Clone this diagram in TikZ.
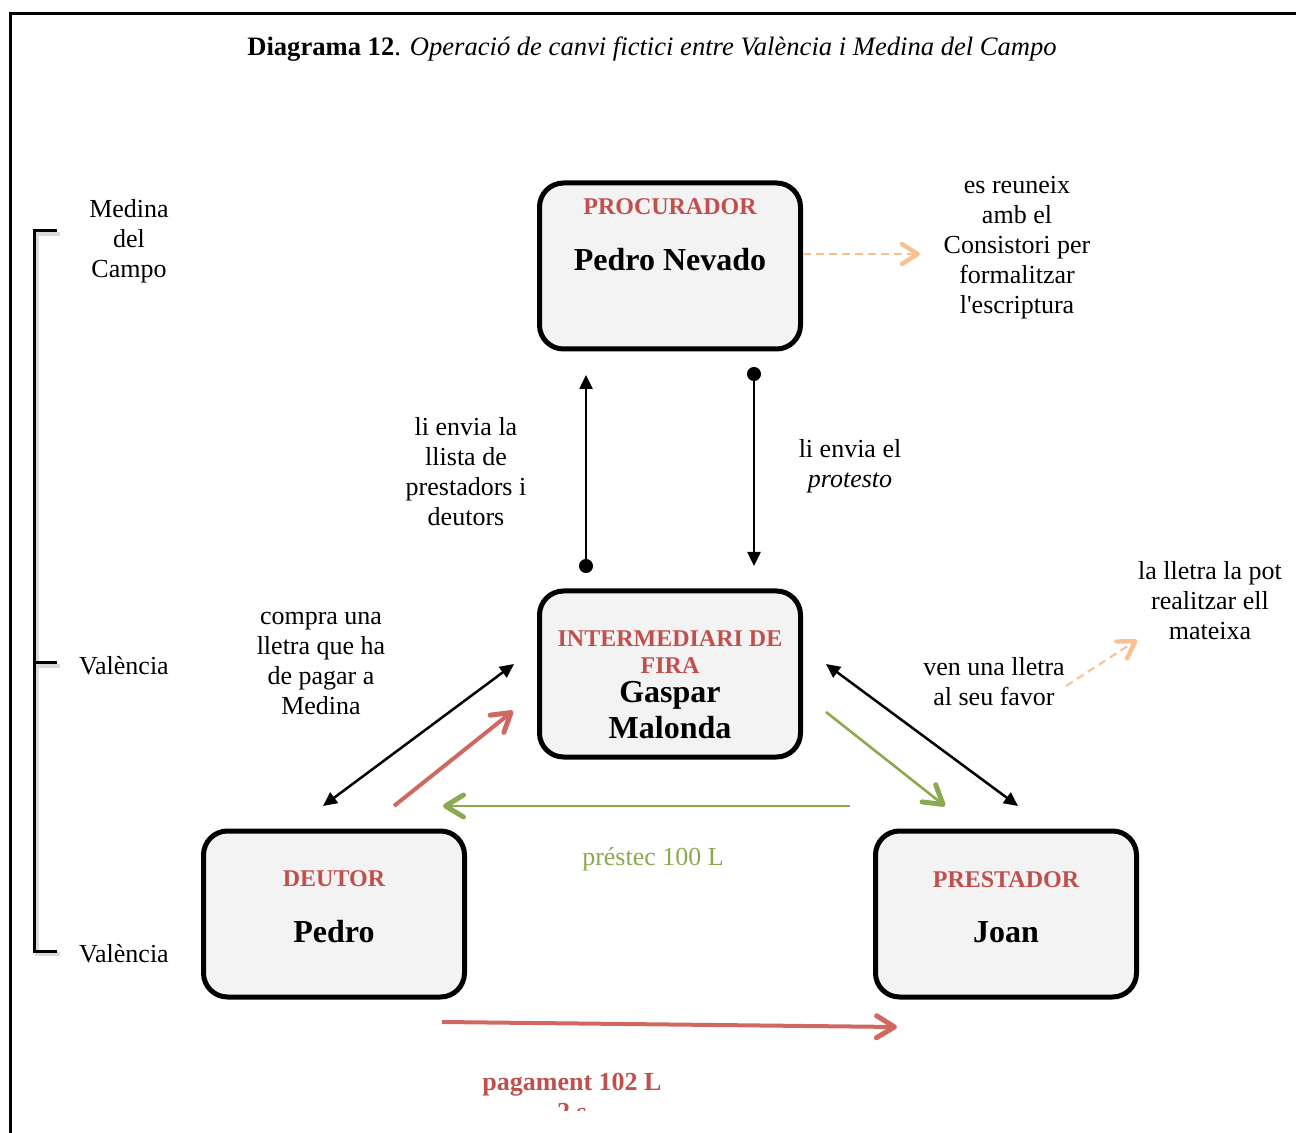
\documentclass[tikz,border=0pt]{standalone}
\usepackage{fontspec}
\setmainfont{Liberation Serif}[Ligatures=TeXOff]
\usetikzlibrary{arrows.meta}
\definecolor{rolered}{RGB}{192,80,77}
\definecolor{payred}{RGB}{208,104,98}
\definecolor{loangreen}{RGB}{140,168,80}
\definecolor{peach}{RGB}{250,192,144}
\definecolor{boxfill}{RGB}{243,243,243}
\definecolor{bracketshadow}{RGB}{218,218,218}

\begin{document}
\begin{tikzpicture}[x=0.5pt,y=-0.5pt,
  party/.style={draw=black, line width=2.5pt, fill=boxfill, rounded corners=12pt,
    minimum width=130.5pt, minimum height=83pt, inner sep=0pt},
  role/.style={font=\fontsize{12}{13.5}\selectfont\bfseries, text=rolered, align=center, inner sep=0pt},
  who/.style={font=\fontsize{16}{18}\selectfont\bfseries, align=center, inner sep=0pt},
  note/.style={font=\fontsize{13}{15}\selectfont, align=center, inner sep=0pt},
  blackline/.style={line width=1.25pt, draw=black},
  onearrow/.style={blackline, {Circle[length=7pt]}-{Triangle[length=7pt,width=6.5pt]}},
  twoarrow/.style={blackline, {Triangle[length=7pt,width=6.5pt]}-{Triangle[length=7pt,width=6.5pt]}},
  barb/.style={-{Straight Barb[length=9pt,width=11pt,line width=2.5pt,round]}},
  payarrow/.style={barb, draw=payred, line width=2pt},
  loanarrow/.style={barb, draw=loangreen, line width=1.3pt},
  hintarrow/.style={draw=peach, line width=1pt, dash pattern=on 4pt off 2.5pt,
    -{Straight Barb[length=8pt,width=10pt,line width=2.2pt,round]}},
]
\useasboundingbox (0,0) rectangle (1296,1133);

% outer frame (top and left edges)
\draw[line width=1.5pt] (10,1133) -- (10,14) -- (1296,14);

% title
\node[font=\fontsize{13.3}{15}\selectfont, inner sep=0pt] (title) at (652,49)
  {\textbf{Diagrama 12}. \textit{Operació de canvi fictici entre València i Medina del Campo}};

% place bracket with a soft shadow
\draw[bracketshadow, line width=2pt] (60,234) -- (37,234) -- (37,954) -- (60,954);
\draw[bracketshadow, line width=2pt] (37,666) -- (60,666);
\draw[line width=1.5pt] (57,231) -- (34,231) -- (34,951) -- (57,951);
\draw[line width=1.5pt] (34,663) -- (57,663);
\node[note] (medina) at (129,241) {Medina\\del\\Campo};
\node[note] (val1) at (124,666) {València};
\node[note] (val2) at (124,954) {València};

% parties
\node[party] (proc) at (670,266) {};
\node[party] (inter) at (670,674) {};
\node[party] (deut) at (334,914) {};
\node[party] (prest) at (1006,914) {};

\node[role] (procrole) at (670,207) {PROCURADOR};
\node[who] (procname) at (670,260) {Pedro Nevado};
\node[role] (interrole) at (670,652) {INTERMEDIARI DE\\FIRA};
\node[who] (intername) at (670,710) {Gaspar\\Malonda};
\node[role] (deutrole) at (334,879) {DEUTOR};
\node[who] (deutname) at (334,932) {Pedro};
\node[role] (prestrole) at (1006,880) {PRESTADOR};
\node[who] (prestname) at (1006,932) {Joan};

% notes
\node[note] (llista) at (466,472) {li envia la\\llista de\\prestadors i\\deutors};
\node[note] (protesto) at (850,466) {li envia el\\\textit{protesto}};
\node[note] (consistori) at (1017,248) {es reuneix\\amb el\\Consistori per\\formalitzar\\l'escriptura};
\node[note] (compra) at (321,664) {compra una\\lletra que ha\\de pagar a\\Medina};
\node[note] (ven) at (994,682) {ven una lletra\\al seu favor};
\node[note] (mateixa) at (1210,601) {la lletra la pot\\realitzar ell\\mateixa};
\node[note, text=loangreen] (prestec) at (653,859) {préstec 100 L};
\begin{scope}
  \clip (0,0) rectangle (1296,1110);
  \node[role, text=rolered, font=\fontsize{13}{15}\selectfont\bfseries] (pagament) at (572,1097) {pagament 102 L\\2 s};
\end{scope}

% connector end points
\coordinate (upfoot) at (586,573);
\coordinate (uphead) at (586,375);
\coordinate (downfoot) at (754,367);
\coordinate (downhead) at (754,566);
\coordinate (lbA) at (323,806);
\coordinate (lbB) at (514,664);
\coordinate (rbA) at (826,664);
\coordinate (rbB) at (1018,806);
\coordinate (payA) at (394,806);
\coordinate (payB) at (513,711);
\coordinate (loanA) at (850,806);
\coordinate (loanB) at (443,806);
\coordinate (loanC) at (826,712);
\coordinate (loanD) at (945,806);
\coordinate (payC) at (442,1022);
\coordinate (payD) at (897,1027);
\coordinate (hintA) at (803,254);
\coordinate (hintB) at (920,254);
\coordinate (hintC) at (1066,686);
\coordinate (hintD) at (1137,640);

% connectors
\draw[onearrow] (upfoot) -- (uphead);
\draw[onearrow] (downfoot) -- (downhead);
\draw[twoarrow] (lbA) -- (lbB);
\draw[twoarrow] (rbA) -- (rbB);
\draw[payarrow] (payA) -- (payB);
\draw[payarrow] (payC) -- (payD);
\draw[loanarrow] (loanA) -- (loanB);
\draw[loanarrow] (loanC) -- (loanD);
\draw[hintarrow] (hintA) -- (hintB);
\draw[hintarrow] (hintC) -- (hintD);
\end{tikzpicture}
\end{document}
